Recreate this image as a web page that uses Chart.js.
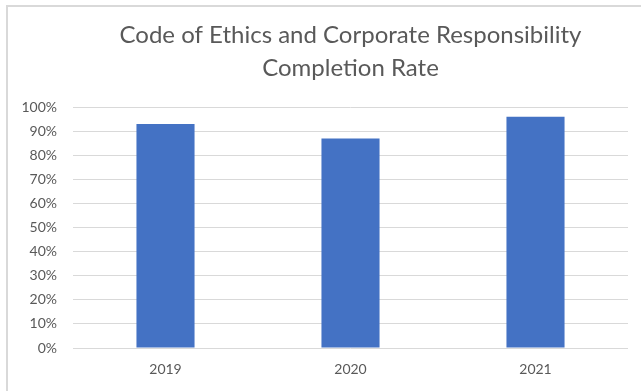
<!DOCTYPE html>
<html>
<head>
<meta charset="utf-8">
<script src="https://cdn.jsdelivr.net/npm/chart.js@4/dist/chart.umd.min.js"></script>
<style>
  html, body { margin: 0; padding: 0; background: #fff; }
  #wrap { position: relative; width: 641px; height: 391px; }
  #frame { position: absolute; left: 6px; top: 5px; right: -10px; bottom: -10px;
           border-left: 2px solid #d9d9d9; border-top: 2px solid #d9d9d9; }
  canvas { position: absolute; left: 0; top: 0; }
</style>
</head>
<body>
<div id="wrap">
  <div id="frame"></div>
  <canvas id="myChart" width="641" height="391"></canvas>
</div>
<script>
// chart data
const titleLines = ["Code of Ethics and Corporate Responsibility", "Completion Rate"];
const years = ["2019", "2020", "2021"];
const completion = [93, 87, 96];
const yTickLabels = ["0%", "10%", "20%", "30%", "40%", "50%", "60%", "70%", "80%", "90%", "100%"];

const fontFamily = "Lato, 'Noto Sans', sans-serif";
const textColor = "#595959";

var ctx = document.getElementById("myChart");
var myChart = new Chart(ctx, {
    type: 'bar',
    data: {
      labels: years,
      datasets: [{
        data: completion,
        backgroundColor: "#4472c4",
        borderWidth: 0,
        barPercentage: 1,
        categoryPercentage: 0.314
      }]
    },
    options: {
      responsive: false,
      animation: false,
      layout: { padding: { top: 18, left: 10, right: 13, bottom: 0 } },
      plugins: {
        legend: { display: false },
        tooltip: { enabled: false },
        title: {
          display: true,
          fullSize: false,
          text: titleLines,
          color: textColor,
          font: { family: fontFamily, size: 24, weight: 'normal', lineHeight: 1.4 },
          padding: { top: 0, bottom: 22 }
        }
      },
      scales: {
        x: {
          afterFit: function(scale) { scale.height = 43; },
          grid: { display: false, drawTicks: false },
          border: { display: false },
          ticks: { color: textColor, font: { family: fontFamily, size: 14 }, padding: 13 }
        },
        y: {
          min: 0,
          max: 100,
          afterFit: function(scale) { scale.width = 63; },
          grid: { color: "#d9d9d9", lineWidth: 1, drawTicks: false },
          border: { display: false },
          ticks: {
            stepSize: 10,
            padding: 16,
            color: textColor,
            font: { family: fontFamily, size: 14 },
            callback: function(value) { return yTickLabels[value / 10]; }
          }
        }
      }
    }
});
</script>
</body>
</html>
